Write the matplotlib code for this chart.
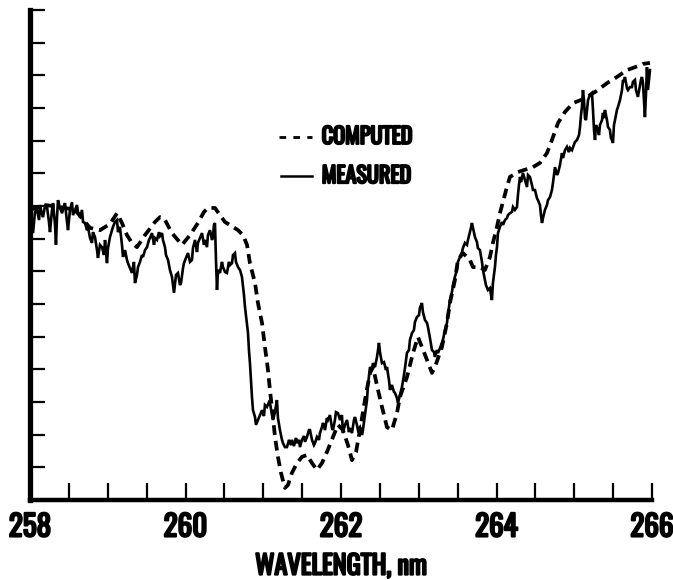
import matplotlib
matplotlib.use("Agg")
import matplotlib.pyplot as plt
import matplotlib.patheffects as pe
from matplotlib.ticker import FixedLocator, FixedFormatter
from matplotlib.lines import Line2D

# Computed spectrum (wavelength in nm, relative signal)
computed_wl = [
    258.000, 258.193, 258.386, 258.579, 258.772, 258.900, 259.029, 259.119, 259.183, 259.247,
    259.312, 259.376, 259.479, 259.607, 259.672, 259.723, 259.826, 259.955, 260.058, 260.160,
    260.238, 260.289, 260.379, 260.443, 260.508, 260.611, 260.675, 260.739, 260.791, 260.829,
    260.894, 260.932, 260.984, 261.022, 261.061, 261.086, 261.125, 261.151, 261.189, 261.228,
    261.279, 261.318, 261.369, 261.434, 261.498, 261.562, 261.627, 261.691, 261.755, 261.819,
    261.897, 261.961, 262.025, 262.090, 262.141, 262.193, 262.244, 262.308, 262.373, 262.411,
    262.476, 262.527, 262.591, 262.655, 262.720, 262.758, 262.848, 262.926, 262.990, 263.041,
    263.106, 263.170, 263.208, 263.298, 263.363, 263.401, 263.465, 263.504, 263.568, 263.658,
    263.697, 263.787, 263.851, 263.916, 263.954, 264.006, 264.044, 264.134, 264.173, 264.276,
    264.469, 264.559, 264.649, 264.713, 264.791, 264.881, 264.984, 265.112, 265.267, 265.421,
    265.549, 265.678, 265.781, 265.884, 265.974,
]
computed_val = [
    8.88, 9.03, 8.97, 8.88, 8.33, 8.26, 8.45, 8.78, 8.48, 8.11,
    7.87, 7.74, 8.11, 8.51, 8.66, 8.63, 8.17, 7.81, 8.11, 8.48,
    8.82, 8.94, 8.94, 8.72, 8.51, 8.36, 8.26, 8.11, 7.81, 7.25,
    6.64, 6.03, 5.42, 4.68, 3.98, 3.37, 2.54, 1.93, 1.32, 0.83,
    0.37, 0.46, 0.83, 1.13, 1.32, 1.38, 1.13, 0.92, 1.13, 1.47,
    1.93, 2.30, 2.14, 1.68, 1.22, 1.47, 2.14, 3.06, 3.89, 4.07,
    3.37, 2.85, 2.23, 2.14, 2.66, 3.15, 3.76, 4.50, 4.99, 4.68,
    4.29, 3.89, 4.07, 4.68, 5.42, 6.03, 6.73, 7.35, 7.56, 7.35,
    7.13, 7.13, 7.04, 7.44, 7.87, 8.36, 8.78, 9.58, 9.89, 10.04,
    10.19, 10.32, 10.62, 11.02, 11.54, 11.88, 12.15, 12.27, 12.49, 12.76,
    12.95, 13.16, 13.25, 13.35, 13.38,
]

# Measured spectrum
measured_wl = [
    258.000, 258.026, 258.039, 258.064, 258.090, 258.116, 258.129, 258.154, 258.167, 258.193,
    258.219, 258.244, 258.257, 258.283, 258.296, 258.322, 258.334, 258.347, 258.360, 258.386,
    258.412, 258.437, 258.450, 258.476, 258.489, 258.514, 258.540, 258.553, 258.579, 258.604,
    258.617, 258.643, 258.669, 258.682, 258.707, 258.733, 258.746, 258.772, 258.797, 258.810,
    258.836, 258.862, 258.874, 258.900, 258.926, 258.952, 258.965, 258.990, 259.003, 259.029,
    259.055, 259.067, 259.093, 259.119, 259.132, 259.157, 259.183, 259.196, 259.222, 259.247,
    259.260, 259.286, 259.312, 259.337, 259.350, 259.376, 259.389, 259.415, 259.440, 259.453,
    259.479, 259.505, 259.530, 259.543, 259.569, 259.595, 259.607, 259.633, 259.659, 259.672,
    259.698, 259.710, 259.736, 259.749, 259.775, 259.800, 259.826, 259.852, 259.878, 259.903,
    259.929, 259.942, 259.968, 259.980, 260.006, 260.032, 260.058, 260.083, 260.096, 260.122,
    260.148, 260.160, 260.186, 260.212, 260.238, 260.250, 260.276, 260.289, 260.315, 260.341,
    260.353, 260.366, 260.379, 260.392, 260.405, 260.418, 260.443, 260.469, 260.482, 260.508,
    260.533, 260.559, 260.572, 260.598, 260.611, 260.636, 260.649, 260.675, 260.701, 260.726,
    260.752, 260.765, 260.791, 260.804, 260.816, 260.829, 260.842, 260.855, 260.868, 260.894,
    260.906, 260.932, 260.958, 260.984, 261.009, 261.022, 261.048, 261.074, 261.086, 261.125,
    261.151, 261.176, 261.189, 261.215, 261.241, 261.254, 261.279, 261.305, 261.331, 261.356,
    261.369, 261.395, 261.421, 261.434, 261.459, 261.472, 261.498, 261.524, 261.537, 261.562,
    261.588, 261.601, 261.627, 261.652, 261.665, 261.691, 261.717, 261.729, 261.755, 261.768,
    261.794, 261.819, 261.832, 261.858, 261.884, 261.897, 261.922, 261.935, 261.961, 261.987,
    262.012, 262.025, 262.051, 262.077, 262.102, 262.115, 262.141, 262.167, 262.180, 262.205,
    262.218, 262.244, 262.270, 262.282, 262.308, 262.334, 262.347, 262.373, 262.398, 262.411,
    262.437, 262.463, 262.476, 262.488, 262.501, 262.527, 262.553, 262.578, 262.591, 262.617,
    262.630, 262.655, 262.681, 262.694, 262.720, 262.733, 262.758, 262.784, 262.810, 262.823,
    262.848, 262.874, 262.887, 262.913, 262.938, 262.951, 262.977, 263.003, 263.015, 263.041,
    263.054, 263.080, 263.106, 263.118, 263.144, 263.170, 263.196, 263.208, 263.234, 263.247,
    263.273, 263.298, 263.311, 263.337, 263.363, 263.375, 263.401, 263.427, 263.440, 263.465,
    263.491, 263.504, 263.530, 263.556, 263.568, 263.594, 263.620, 263.633, 263.658, 263.671,
    263.684, 263.710, 263.723, 263.748, 263.761, 263.787, 263.813, 263.826, 263.851, 263.864,
    263.890, 263.916, 263.929, 263.941, 263.954, 263.980, 263.993, 264.006, 264.019, 264.044,
    264.070, 264.083, 264.109, 264.134, 264.147, 264.173, 264.199, 264.212, 264.237, 264.263,
    264.276, 264.289, 264.302, 264.315, 264.340, 264.366, 264.392, 264.405, 264.430, 264.456,
    264.469, 264.495, 264.520, 264.533, 264.559, 264.572, 264.585, 264.598, 264.623, 264.649,
    264.662, 264.688, 264.713, 264.726, 264.752, 264.778, 264.791, 264.816, 264.842, 264.855,
    264.881, 264.906, 264.932, 264.945, 264.971, 264.996, 265.009, 265.035, 265.061, 265.074,
    265.087, 265.099, 265.112, 265.125, 265.138, 265.151, 265.164, 265.177, 265.202, 265.228,
    265.241, 265.254, 265.267, 265.279, 265.305, 265.318, 265.331, 265.357, 265.369, 265.382,
    265.395, 265.421, 265.434, 265.459, 265.472, 265.485, 265.498, 265.511, 265.524, 265.549,
    265.562, 265.588, 265.601, 265.614, 265.627, 265.639, 265.652, 265.678, 265.691, 265.716,
    265.742, 265.755, 265.781, 265.794, 265.819, 265.845, 265.858, 265.871, 265.884, 265.897,
    265.909, 265.922, 265.935, 265.948, 265.961, 265.974,
]
measured_val = [
    8.97, 8.42, 8.17, 8.82, 8.88, 8.57, 9.03, 8.75, 8.66, 9.00,
    8.97, 8.51, 8.20, 8.88, 9.09, 8.42, 7.81, 8.63, 9.18, 8.94,
    8.78, 9.00, 9.09, 8.51, 8.26, 8.88, 9.12, 8.72, 8.88, 9.03,
    8.82, 8.66, 8.88, 8.51, 8.48, 8.26, 8.36, 8.02, 7.87, 8.20,
    8.05, 7.65, 7.41, 7.81, 7.74, 7.50, 7.96, 7.25, 7.71, 8.05,
    8.26, 8.36, 8.51, 8.57, 8.20, 8.36, 7.81, 7.44, 7.65, 7.35,
    7.25, 7.10, 6.95, 7.29, 6.64, 6.89, 7.13, 7.29, 7.50, 7.44,
    7.65, 7.74, 7.96, 8.02, 8.17, 7.81, 8.02, 7.96, 8.20, 8.08,
    8.17, 7.96, 7.74, 7.50, 7.35, 7.04, 6.83, 6.34, 6.89, 6.95,
    6.58, 6.64, 7.10, 7.25, 7.41, 7.56, 7.29, 7.35, 7.71, 7.96,
    7.59, 7.87, 8.02, 8.17, 7.81, 7.96, 7.74, 8.11, 8.26, 7.96,
    8.05, 8.42, 8.48, 7.35, 6.43, 7.04, 6.95, 7.29, 7.13, 6.98,
    6.95, 7.29, 7.19, 7.25, 7.50, 7.56, 7.29, 7.13, 7.04, 6.83,
    6.28, 5.91, 5.36, 5.11, 4.59, 4.19, 3.67, 3.15, 2.75, 2.54,
    2.30, 2.45, 2.60, 2.75, 2.57, 2.91, 2.85, 3.00, 2.97, 2.45,
    2.69, 3.06, 2.51, 2.14, 1.84, 1.74, 1.62, 1.62, 1.84, 1.68,
    1.84, 1.65, 1.90, 1.74, 1.84, 1.62, 1.84, 1.96, 1.78, 1.93,
    2.14, 2.14, 1.84, 1.68, 1.74, 1.93, 1.84, 2.05, 2.23, 2.36,
    2.14, 2.51, 2.45, 2.60, 2.20, 2.14, 2.45, 2.69, 2.66, 2.45,
    2.60, 2.05, 2.30, 2.45, 2.08, 2.20, 2.05, 2.45, 2.54, 2.30,
    2.14, 2.23, 1.99, 2.14, 2.60, 3.06, 3.52, 4.07, 3.98, 4.19,
    4.07, 4.38, 4.59, 4.81, 4.53, 4.19, 4.22, 3.98, 4.07, 3.67,
    3.37, 3.52, 3.31, 3.28, 3.12, 2.97, 3.21, 3.46, 3.83, 4.04,
    4.50, 4.59, 4.90, 5.11, 5.20, 5.45, 5.60, 5.66, 5.88, 6.03,
    5.75, 5.51, 5.42, 5.30, 4.96, 4.59, 4.53, 4.38, 4.59, 4.50,
    4.65, 4.81, 4.90, 5.20, 5.42, 5.66, 6.12, 6.37, 6.58, 6.83,
    7.04, 7.29, 7.44, 7.59, 7.71, 7.87, 7.81, 7.96, 8.20, 8.33,
    8.48, 8.20, 8.05, 7.90, 7.71, 7.65, 7.29, 7.04, 6.73, 6.58,
    6.43, 6.49, 6.28, 6.12, 6.64, 7.13, 7.50, 7.74, 8.17, 8.36,
    8.51, 8.42, 8.57, 8.63, 8.72, 8.78, 8.82, 8.97, 8.88, 8.97,
    9.34, 9.64, 9.89, 9.73, 10.01, 9.80, 9.58, 9.95, 9.89, 9.64,
    9.49, 9.49, 9.24, 9.18, 9.03, 8.72, 8.48, 8.63, 8.88, 9.03,
    9.18, 9.27, 9.49, 9.70, 10.19, 9.95, 10.01, 10.25, 10.62, 10.47,
    10.71, 10.81, 10.65, 10.78, 10.71, 10.87, 10.96, 11.02, 11.17, 11.42,
    11.79, 12.03, 12.55, 12.24, 11.69, 11.63, 11.94, 12.24, 12.40, 12.46,
    11.94, 11.33, 11.02, 11.48, 11.33, 11.17, 11.48, 11.63, 11.85, 11.69,
    11.94, 11.63, 11.42, 11.33, 11.08, 11.02, 10.93, 11.48, 11.63, 11.94,
    12.03, 12.24, 12.40, 12.55, 12.86, 12.80, 12.95, 12.61, 12.55, 12.64,
    12.64, 12.80, 12.86, 12.55, 12.34, 12.70, 12.86, 12.95, 12.76, 12.24,
    11.72, 12.40, 13.25, 12.55, 12.86, 13.16,
]

x_ticks = [258 + 0.5 * i for i in range(17)]
x_tick_labels = ["258", "", "", "", "260", "", "", "", "262", "", "", "", "264", "", "", "", "266"]
y_ticks = list(range(1, 16))

label_font = ["Oswald", "Barlow Condensed", "DejaVu Sans"]
heavy = [pe.withStroke(linewidth=1.5, foreground="black")]

fig = plt.figure(figsize=(6.73, 5.80), dpi=100)
ax = fig.add_axes([30 / 673, 80 / 580, 622 / 673, 490 / 580])

ax.plot(measured_wl, measured_val, color="black", lw=1.9, solid_joinstyle="miter")
ax.plot(computed_wl, computed_val, color="black", lw=2.7, linestyle=(0, (2.6, 1.6)),
        dash_capstyle="butt")

ax.set_xlim(258, 266)
ax.set_ylim(0, 15)

for side in ("top", "right"):
    ax.spines[side].set_visible(False)
ax.spines["left"].set_linewidth(3.8)
ax.spines["bottom"].set_linewidth(3.2)

ax.xaxis.set_major_locator(FixedLocator(x_ticks))
ax.xaxis.set_major_formatter(FixedFormatter(x_tick_labels))
ax.yaxis.set_major_locator(FixedLocator(y_ticks))
ax.set_yticklabels([])
ax.tick_params(axis="x", direction="in", length=12, width=1.6, pad=9)
ax.tick_params(axis="y", direction="in", length=11, width=1.6)

for lbl in ax.get_xticklabels():
    lbl.set_family(label_font)
    lbl.set_fontsize(21)
    lbl.set_path_effects(heavy)

ax.set_xlabel("WAVELENGTH, nm", family=label_font, fontsize=19, labelpad=8,
              path_effects=heavy)

# key for the two curves
ax.add_line(Line2D([0.400, 0.453], [0.741, 0.741], transform=ax.transAxes, color="black",
                   lw=2.0, linestyle=(0, (2.4, 2.6)), dash_capstyle="butt"))
ax.add_line(Line2D([0.404, 0.453], [0.661, 0.661], transform=ax.transAxes, color="black", lw=1.8))
ax.text(0.469, 0.741, "COMPUTED", transform=ax.transAxes, va="center", ha="left",
        family=label_font, fontsize=16, path_effects=heavy)
ax.text(0.469, 0.661, "MEASURED", transform=ax.transAxes, va="center", ha="left",
        family=label_font, fontsize=16, path_effects=heavy)

fig.savefig("out.png", dpi=100)
